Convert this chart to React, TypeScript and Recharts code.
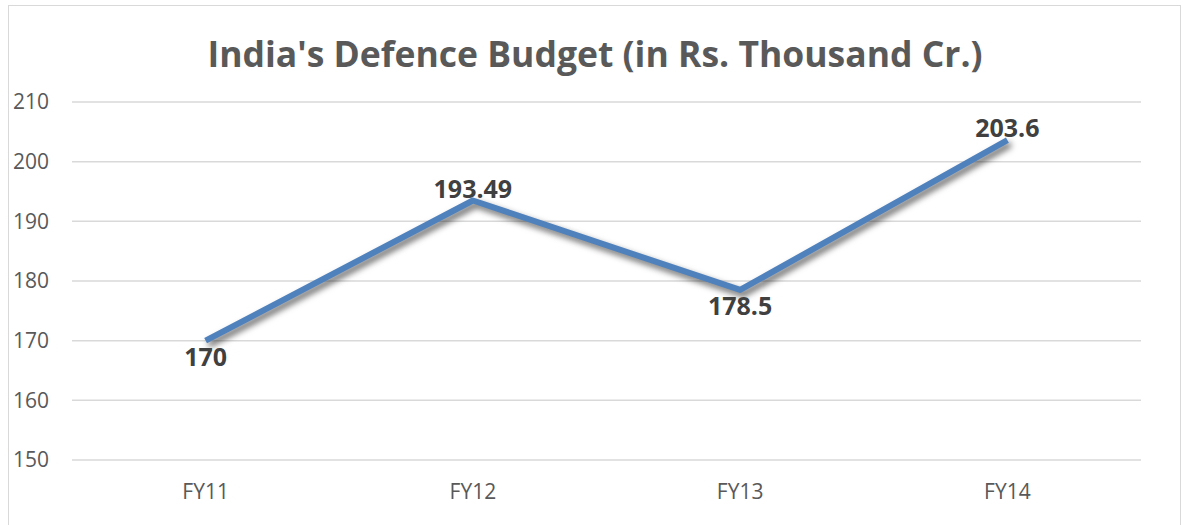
import React from "react";
import { LineChart, Line, XAxis, YAxis, CartesianGrid, LabelList } from "recharts";

const categories = ["FY11", "FY12", "FY13", "FY14"];
const budget = [170, 193.49, 178.5, 203.6];
const yTicks = [150, 160, 170, 180, 190, 200, 210];

const data = categories.map((fy, i) => ({ fy, budget: budget[i] }));

const FONT = "'Open Sans', 'Noto Sans', sans-serif";

// label goes above when the line rose into the point, below otherwise
const PointLabel = (props: any) => {
  const { x, y, value, index } = props;
  const above = index > 0 && budget[index] >= budget[index - 1];
  return (
    <text
      x={x}
      y={above ? y - 13 : y + 15}
      textAnchor="middle"
      dominantBaseline="central"
      fill="#404040"
      fontFamily={FONT}
      fontWeight={700}
      fontSize={25}
    >
      {value}
    </text>
  );
};

export default function App() {
  return (
    <div style={{ position: "absolute", left: 0, top: 0, width: 1198, height: 525, background: "#fff", overflow: "hidden" }}>
      <div
        style={{
          position: "absolute",
          left: 8,
          top: 5,
          width: 1173,
          height: 540,
          border: "1.5px solid #d9d9d9",
          boxSizing: "border-box",
        }}
      />
      <div
        style={{
          position: "absolute",
          left: 0,
          top: 29,
          width: 1190,
          textAlign: "center",
          fontFamily: FONT,
          fontWeight: 700,
          fontSize: 35.5,
          color: "#595959",
          lineHeight: "48px",
        }}
      >
        India's Defence Budget (in Rs. Thousand Cr.)
      </div>
      <div style={{ position: "absolute", left: 0, top: 0 }}>
        <LineChart width={1198} height={525} data={data} margin={{ top: 102, right: 57, left: 12, bottom: 30 }}>
          <CartesianGrid vertical={false} stroke="#d9d9d9" strokeWidth={1.5} />
          <XAxis
            dataKey="fy"
            axisLine={false}
            tickLine={false}
            tickSize={0}
            tickMargin={24}
            height={35}
            padding={{ left: 133.6, right: 133.6 }}
            tick={{ fill: "#595959", fontSize: 21, fontFamily: FONT }}
          />
          <YAxis
            domain={[150, 210]}
            ticks={yTicks}
            axisLine={false}
            tickLine={false}
            tickSize={0}
            tickMargin={23}
            width={60}
            tick={{ fill: "#595959", fontSize: 21, fontFamily: FONT }}
          />
          <Line
            type="linear"
            dataKey="budget"
            stroke="#4f81bd"
            strokeWidth={6}
            strokeLinejoin="round"
            dot={false}
            activeDot={false}
            isAnimationActive={false}
            style={{ filter: "drop-shadow(3px 4px 3px rgba(0,0,0,0.6))" }}
          >
            <LabelList dataKey="budget" content={PointLabel} />
          </Line>
        </LineChart>
      </div>
    </div>
  );
}
